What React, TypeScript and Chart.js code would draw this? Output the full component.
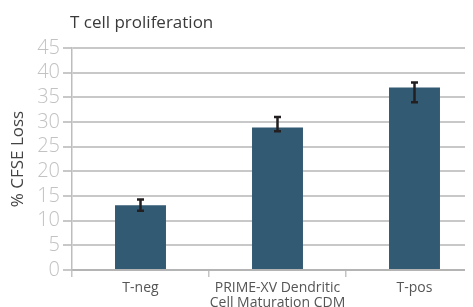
import React, { useEffect, useRef } from "react";
import { Chart, registerables } from "chart.js";

Chart.register(...registerables);

const categories: (string | string[])[] = ["T-neg", ["PRIME-XV Dendritic", "Cell Maturation CDM"], "T-pos"];
const values = [13.1, 28.9, 37.0];
const errLow = [12.0, 28.1, 34.0];
const errHigh = [14.3, 31.0, 38.0];
const yTicks = [0, 5, 10, 15, 20, 25, 30, 35, 40, 45];
const titleText = "T cell proliferation";
const yTitle = "% CFSE Loss";

const FONT = "'Open Sans', 'Noto Sans', sans-serif";

const errorBarPlugin = {
  id: "errorBars",
  afterDatasetsDraw(chart: any) {
    const ctx = chart.ctx;
    const meta = chart.getDatasetMeta(0);
    const yScale = chart.scales.y;
    ctx.save();
    ctx.strokeStyle = "#231f20";
    ctx.lineWidth = 2.5;
    meta.data.forEach((bar: any, i: number) => {
      const x = bar.x;
      const yTop = yScale.getPixelForValue(errHigh[i]);
      const yBot = yScale.getPixelForValue(errLow[i]);
      const cap = 3.5;
      ctx.beginPath();
      ctx.moveTo(x, yTop);
      ctx.lineTo(x, yBot);
      ctx.moveTo(x - cap, yTop);
      ctx.lineTo(x + cap, yTop);
      ctx.moveTo(x - cap, yBot);
      ctx.lineTo(x + cap, yBot);
      ctx.stroke();
    });
    ctx.restore();
  },
};

const titlePlugin = {
  id: "leftTitle",
  afterDraw(chart: any) {
    const ctx = chart.ctx;
    const area = chart.chartArea;
    ctx.save();
    ctx.fillStyle = "#3a3a3a";
    ctx.font = `17px ${FONT}`;
    ctx.textAlign = "left";
    ctx.textBaseline = "middle";
    ctx.fillText(titleText, area.left - 2, area.top - 25);
    ctx.restore();
  },
};

export default function App() {
  const ref = useRef<HTMLCanvasElement>(null);
  useEffect(() => {
    if (!ref.current) return;
    const chart = new Chart(ref.current, {
      type: "bar",
      data: {
        labels: categories,
        datasets: [
          {
            data: values,
            backgroundColor: "#325a73",
            barPercentage: 0.372,
            categoryPercentage: 1,
          },
        ],
      },
      options: {
        animation: false,
        responsive: false,
        maintainAspectRatio: false,
        layout: { padding: { top: 40, right: 5, left: 0, bottom: 0 } },
        plugins: {
          legend: { display: false },
          tooltip: { enabled: false },
          title: { display: false },
        },
        scales: {
          x: {
            offset: true,
            grid: {
              display: true,
              drawOnChartArea: false,
              drawTicks: true,
              tickLength: 7,
              color: "#c4c4c4",
              lineWidth: 1.5,
              offset: true,
            },
            border: { display: true, color: "#b4b4b4", width: 2 },
            ticks: {
              color: "#555",
              font: { family: FONT, size: 14, lineHeight: 1.1 },
              padding: 3,
              maxRotation: 0,
              autoSkip: false,
            },
            afterFit(scale: any) {
              scale.height = 37;
            },
          },
          y: {
            min: 0,
            max: 45,
            afterBuildTicks(scale: any) {
              scale.ticks = yTicks.map((v) => ({ value: v }));
            },
            grid: {
              color: "#c8c8c8",
              lineWidth: 2,
              tickLength: 9,
              drawTicks: true,
            },
            border: { display: true, color: "#bdbdbd", width: 1.5 },
            ticks: {
              color: "#c2c2c2",
              font: { family: FONT, size: 20, weight: 300, lineHeight: 1 },
              padding: 3,
              autoSkip: false,
            },
            title: {
              display: true,
              text: yTitle,
              color: "#444",
              font: { family: FONT, size: 17 },
              padding: { top: 0, bottom: 0 },
            },
            afterFit(scale: any) {
              scale.width = 64;
            },
          },
        },
      },
      plugins: [errorBarPlugin, titlePlugin],
    });
    return () => chart.destroy();
  }, []);
  return (
    <div style={{ width: 465, height: 299, overflow: "hidden", position: "relative" }}>
      <canvas ref={ref} width={480} height={299} style={{ display: "block" }} />
    </div>
  );
}
